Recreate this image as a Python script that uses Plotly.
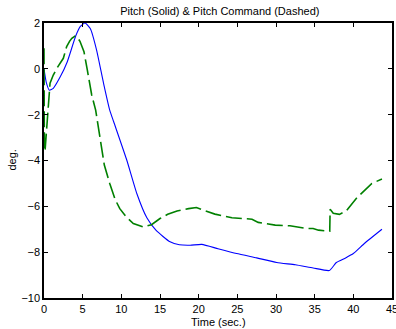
import plotly.graph_objects as go

# Pitch (solid)
pitch_t = [0, 0.3, 0.7, 1.2, 2.1, 3.0, 4.1, 4.7, 5.3, 6.0, 6.8, 7.7, 8.5, 9.0, 10.7, 12.0, 13.3, 14.5,
           16.3, 17.5, 18.9, 20.4, 22.5, 24.9, 27.5, 30.1, 32.5, 34.8, 36.9, 37.8, 39.0, 40.0, 41.5, 43.7]
pitch_y = [0, -0.6, -0.93, -0.85, -0.35, 0.3, 1.43, 1.85, 2.0, 1.75, 0.82, -0.63, -1.8, -2.3, -3.98, -5.44,
           -6.5, -7.05, -7.55, -7.68, -7.7, -7.66, -7.85, -8.06, -8.25, -8.45, -8.55, -8.69, -8.8, -8.45,
           -8.25, -8.06, -7.6, -7.0]

# Pitch command (dashed)
cmd_t = [0, 0.05, 0.15, 0.35, 0.56, 0.78, 1.2, 1.8, 2.5, 2.93, 3.3, 3.6, 4.0, 4.3, 4.65, 5.17, 5.6, 6.17,
         6.68, 7.46, 7.8, 8.5, 9.2, 9.8, 10.6, 11.55, 12.84, 13.9, 15.0, 16.0, 17.2, 18.7, 19.7, 20.6, 22.1,
         24.3, 25.3, 26.9, 27.7, 29.0, 29.9, 31.8, 32.7, 34.0, 34.8, 35.5, 36.6, 36.95, 37.0, 37.4, 38.2,
         39.1, 40.4, 41.3, 42.4, 43.7]
cmd_y = [0.9, -3.6, -3.5, -2.5, -1.36, -0.63, -0.27, 0.1, 0.46, 0.97, 1.2, 1.33, 1.43, 1.38, 1.2, 0.75,
         -0.05, -1.14, -1.8, -3.55, -4.2, -5.0, -5.7, -6.1, -6.45, -6.75, -6.9, -6.8, -6.53, -6.35, -6.2,
         -6.1, -6.05, -6.17, -6.34, -6.5, -6.53, -6.56, -6.7, -6.79, -6.82, -6.85, -6.9, -6.97, -6.97,
         -7.04, -7.08, -7.08, -6.13, -6.3, -6.35, -6.2, -5.65, -5.37, -5.0, -4.81]

x_ticks = [0, 5, 10, 15, 20, 25, 30, 35, 40, 45]
y_ticks = [-10, -8, -6, -4, -2, 0, 2]

fig = go.Figure()
fig.add_trace(go.Scatter(x=pitch_t, y=pitch_y, mode="lines",
                         line=dict(color="#0000ff", width=1.1, shape="spline", smoothing=0.5),
                         showlegend=False))
fig.add_trace(go.Scatter(x=cmd_t, y=cmd_y, mode="lines",
                         line=dict(color="#008000", width=1.6, dash="16px,5px"),
                         showlegend=False))

font = dict(family="Liberation Sans, Arial, sans-serif", size=11, color="black")
fig.update_layout(
    width=396, height=329,
    margin=dict(l=44, r=4, t=23, b=31, autoexpand=False),
    paper_bgcolor="white", plot_bgcolor="white",
    font=font,
    title=dict(text="Pitch (Solid) & Pitch Command (Dashed)", x=0.555, xanchor="center",
               y=1 - 11 / 329, yanchor="middle", font=dict(size=11)),
    xaxis=dict(range=[0, 45], tickvals=x_ticks, ticks="inside", ticklen=4, tickcolor="black",
               showline=True, linecolor="black", linewidth=1.5, mirror="ticks", showgrid=False,
               zeroline=False, automargin=False, ticklabeloverflow="allow"),
    yaxis=dict(range=[-10, 2], tickvals=y_ticks, ticks="inside", ticklen=4, tickcolor="black",
               showline=True, linecolor="black", linewidth=1.5, mirror="ticks", showgrid=False,
               zeroline=False, automargin=False, ticklabeloverflow="allow"),
    annotations=[
        dict(text="Time (sec.)", xref="paper", yref="paper", x=0.5, y=-16 / 275,
             xanchor="center", yanchor="top", showarrow=False, font=dict(size=11)),
        dict(text="deg.", xref="paper", yref="paper", x=-25 / 348, y=0.5, textangle=-90,
             xanchor="right", yanchor="middle", showarrow=False, font=dict(size=11)),
    ],
)
fig.write_html("out.html", config={"displayModeBar": False},
               post_script="document.body.style.margin='0';")
